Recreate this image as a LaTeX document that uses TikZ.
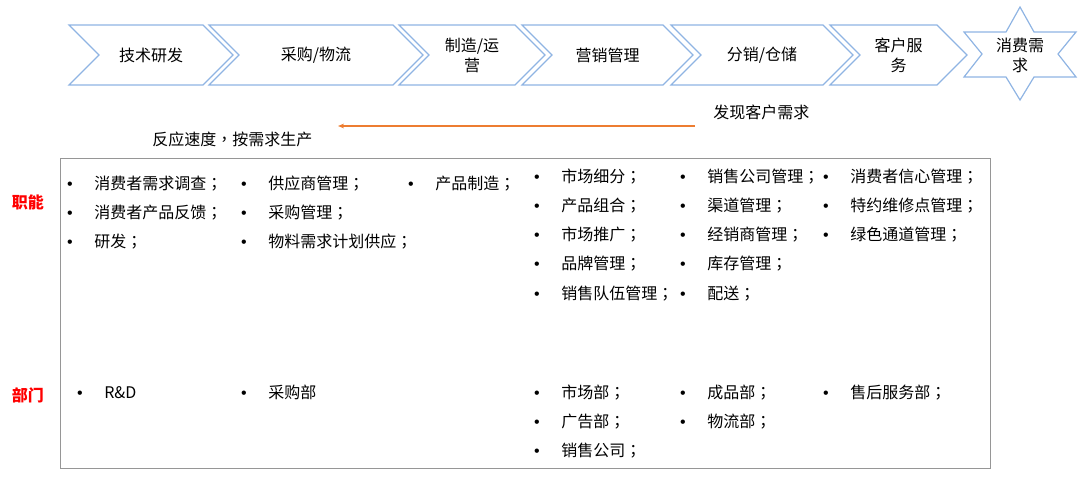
\documentclass[tikz,border=0pt]{standalone}
\usepackage{fontspec}
\setmainfont{Noto Sans CJK SC}
\newfontfamily\punctfont{Noto Sans CJK TC}
\newfontfamily\bulletfont{Liberation Sans}
\usetikzlibrary{arrows.meta, positioning, shapes.symbols}

\definecolor{chevblue}{RGB}{143,180,227}
\definecolor{needorange}{RGB}{237,125,49}
\definecolor{panelgray}{RGB}{150,150,150}
\definecolor{tagred}{RGB}{255,0,0}

\newcommand{\px}{0.75pt}
\newcommand{\semi}{{\punctfont ；}}
\newcommand{\itemcolumn}[4]{%
  \foreach \entry [count=\k] in {#4} {
    \node[bulletdot] (#1-b\k) at (#2, {#3+6+(\k-1)*29.3}) {•};
    \node[itemtext] (#1-t\k) at ({#2+24}, {#3+6+(\k-1)*29.3}) {\entry};
  }}

\tikzset{
  stage/.style={draw=chevblue, line width=0.9pt, shape=signal,
                signal to=east, signal from=west, signal pointer angle=90,
                minimum height=60*\px, inner sep=0pt, align=center,
                font=\fontsize{12}{15}\selectfont},
  bulletdot/.style={anchor=base, inner sep=0pt, font=\fontsize{12}{15}\bulletfont},
  itemtext/.style={anchor=base west, inner sep=0pt, font=\fontsize{12}{15}\selectfont},
  tag/.style={inner sep=0pt, text=tagred, font=\fontsize{12}{15}\selectfont\bfseries},
  note/.style={anchor=west, inner sep=0pt, font=\fontsize{12}{15}\selectfont}
}

\begin{document}
\begin{tikzpicture}[x=0.75pt, y=-0.75pt, >=Stealth]
  \useasboundingbox (0,0) rectangle (1080,480);

  % value chain
  \node[stage, minimum width=164*\px] (rd)     at (151,55)   {技术研发};
  \node[stage, minimum width=214*\px] (buy)    at (316,55)   {采购/物流};
  \node[stage, minimum width=146*\px] (make)   at (472,55)   {制造/运\\营};
  \node[stage, minimum width=171*\px] (market) at (607.5,55) {营销管理};
  \node[stage, minimum width=182*\px] (dist)   at (762,55)   {分销/仓储};
  \node[stage, minimum width=137*\px] (serve)  at (898.5,55) {客户服\\务};

  \draw[chevblue, line width=0.9pt]
    (1020,7) -- (1034,32) -- (1076,32) -- (1058,54) -- (1076,77) -- (1034,77)
    -- (1020,100) -- (1006,77) -- (964,77) -- (982,54) -- (964,32) -- (1006,32)
    -- cycle;
  \node[align=center, inner sep=0pt, font=\fontsize{12}{15}\selectfont]
    (demand) at (1020,55) {消费需\\求};

  % pull arrow
  \node[note] (find) at (713,112) {发现客户需求};
  \node[note] (react) at (152,139) {反应速度{\punctfont ，}按需求生产};
  \coordinate (pullstart) at (695,126);
  \coordinate (pullend) at (338,126);
  \draw[->, needorange, line width=0.8pt, >={Stealth[length=4.5pt, width=3.5pt]}]
    (pullstart) -- (pullend);

  % table
  \node[draw=panelgray, line width=1.1pt, anchor=north west,
        minimum width=930*\px, minimum height=310*\px] (panel) at (60,158) {};
  \node[tag] (duty) at (28,202) {职能};
  \node[tag] (dept) at (28,395) {部门};

  \itemcolumn{fa}{70}{183}{消费者需求调查\semi, 消费者产品反馈\semi, 研发\semi}
  \itemcolumn{fb}{244}{183}{供应商管理\semi, 采购管理\semi, 物料需求计划供应\semi}
  \itemcolumn{fc}{411}{183}{产品制造\semi}
  \itemcolumn{fd}{537}{176}{市场细分\semi, 产品组合\semi, 市场推广\semi, 品牌管理\semi, 销售队伍管理\semi}
  \itemcolumn{fe}{683}{176}{销售公司管理\semi, 渠道管理\semi, 经销商管理\semi, 库存管理\semi, 配送\semi}
  \itemcolumn{ff}{826}{176}{消费者信心管理\semi, 特约维修点管理\semi, 绿色通道管理\semi}

  \itemcolumn{da}{80}{392}{R\&D}
  \itemcolumn{db}{244}{392}{采购部}
  \itemcolumn{dd}{537}{392}{市场部\semi, 广告部\semi, 销售公司\semi}
  \itemcolumn{de}{683}{392}{成品部\semi, 物流部\semi}
  \itemcolumn{df}{826}{392}{售后服务部\semi}
\end{tikzpicture}
\end{document}
